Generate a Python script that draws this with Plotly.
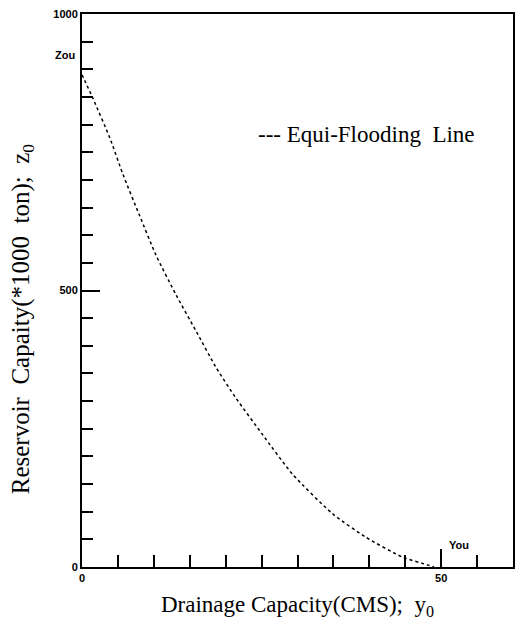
import plotly.graph_objects as go

# Equi-flooding line: drainage capacity y0 (CMS) vs reservoir capacity z0 (*1000 ton)
drainage_y0 = [0, 1.5, 3.9, 5.7, 8.0, 10.3, 13.1, 15.9, 18.7, 21.4, 25.1, 29.3, 34.9, 39.5, 44.6, 48.3, 49.0]
reservoir_z0 = [890, 848, 775, 710, 636, 564, 492, 426, 360, 306, 240, 168, 96, 54, 18, 3, 0]

x_ticks = [0, 50]
y_ticks = [0, 500, 1000]
zou_value = 925
you_value = 52.5

tick_font = dict(family="Liberation Sans Narrow, Arial Narrow, Liberation Sans", size=11, color="black", weight="bold")
serif = "Liberation Serif, Times New Roman, serif"

fig = go.Figure()
fig.add_trace(go.Scatter(
    x=drainage_y0, y=reservoir_z0, mode="lines",
    line=dict(color="black", width=1.5, dash="3px,3px", shape="spline", smoothing=0.6),
    showlegend=False, hoverinfo="skip",
))

axis_common = dict(
    showline=True, linecolor="black", linewidth=2, mirror=True,
    showgrid=False, zeroline=False, ticks="inside", tickcolor="black",
    tickwidth=1.5, tickfont=tick_font,
)

fig.update_xaxes(
    range=[0, 60], tickvals=x_ticks, ticklen=18,
    minor=dict(dtick=5, ticks="inside", ticklen=12, tickcolor="black", tickwidth=1.5, showgrid=False),
    title=dict(text="Drainage Capacity(CMS);  y<sub>0</sub>", font=dict(family=serif, size=23, color="black"), standoff=13),
    **axis_common,
)
fig.update_yaxes(
    range=[0, 1000], tickvals=y_ticks, ticklen=18,
    minor=dict(dtick=50, ticks="inside", ticklen=11, tickcolor="black", tickwidth=1.5, showgrid=False),
    **axis_common,
)

# vertical axis title, placed beside the tick labels
fig.add_annotation(x=0, xref="paper", xshift=-60, y=0.448, yref="paper",
                   text="Reservoir  Capaity(*1000  ton);  z<sub>0</sub>", textangle=-90,
                   showarrow=False, xanchor="center", yanchor="middle",
                   font=dict(family=serif, size=25, color="black"))

fig.add_annotation(x=0, xref="paper", y=zou_value, yref="y", text="Zou", showarrow=False,
                   xanchor="right", xshift=-5, font=tick_font)
fig.add_annotation(x=you_value, xref="x", y=0, yref="y", text="You", showarrow=False,
                   yanchor="bottom", yshift=14, font=tick_font)
fig.add_annotation(x=0.404, xref="paper", y=0.783, yref="paper", text="--- Equi-Flooding  Line",
                   showarrow=False, xanchor="left", yanchor="middle",
                   font=dict(family=serif, size=23, color="black"))

fig.update_layout(
    width=523, height=622,
    margin=dict(l=82, r=8, t=11, b=55),
    plot_bgcolor="white", paper_bgcolor="white",
)

fig.write_html("out.html")
